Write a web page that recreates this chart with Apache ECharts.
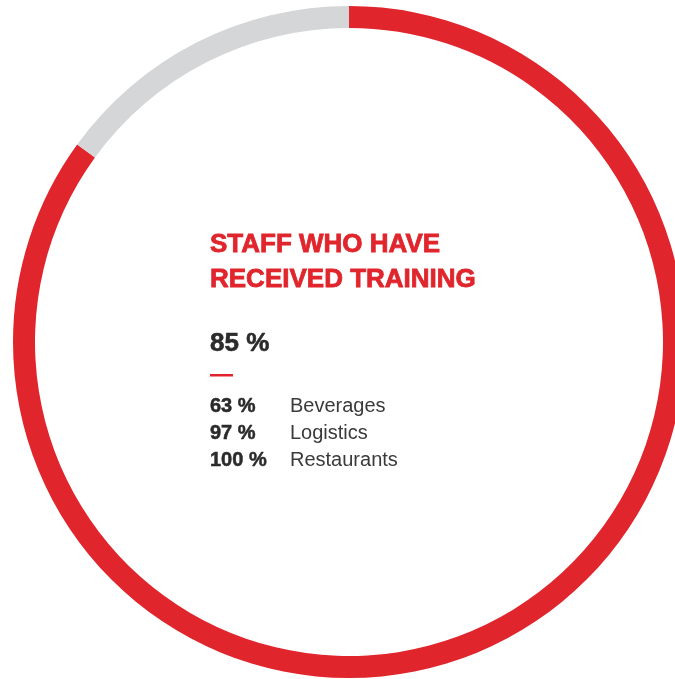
<!DOCTYPE html>
<html>
<head>
<meta charset="utf-8">
<script src="https://cdn.jsdelivr.net/npm/echarts@6/dist/echarts.min.js"></script>
<style>
html,body{margin:0;padding:0;background:#fff;}
#chart{width:675px;height:679px;}
</style>
</head>
<body>
<div id="chart"></div>
<script>
// ---- data ----
const titleLines = ['STAFF WHO HAVE', 'RECEIVED TRAINING'];
const totalShare = 85;
const categories = ['Beverages', 'Logistics', 'Restaurants'];
const categoryShares = [63, 97, 100];

const RED = '#E0252C';
const GREY = '#D5D6D8';
const DARK = '#2b2b2b';
const FONT = '"Liberation Sans", Arial, sans-serif';

const chart = echarts.init(document.getElementById('chart'), null, {renderer: 'canvas'});

const graphics = [];
titleLines.forEach((t, i) => {
  graphics.push({
    type: 'text', x: 210, y: 245 + i * 35,
    style: {text: t, fill: RED, stroke: RED, lineWidth: 0.8, font: 'bold 26px ' + FONT, verticalAlign: 'middle', align: 'left'}
  });
});
graphics.push({
  type: 'text', x: 210, y: 344,
  style: {text: totalShare + ' %', fill: DARK, stroke: DARK, lineWidth: 0.6, font: 'bold 26px ' + FONT, verticalAlign: 'middle', align: 'left'}
});
graphics.push({
  type: 'rect', shape: {x: 210, y: 374, width: 23, height: 2.5},
  style: {fill: RED}
});
categories.forEach((c, i) => {
  const y = 406.5 + i * 27;
  graphics.push({
    type: 'text', x: 210, y: y,
    style: {text: categoryShares[i] + ' %', fill: DARK, stroke: DARK, lineWidth: 0.5, font: 'bold 20px ' + FONT, verticalAlign: 'middle', align: 'left'}
  });
  graphics.push({
    type: 'text', x: 290, y: y,
    style: {text: c, fill: '#3a3a3a', font: '20px ' + FONT, verticalAlign: 'middle', align: 'left'}
  });
});

chart.setOption({
  animation: false,
  series: [{
    type: 'pie',
    center: [349, 342],
    radius: [314, 336],
    startAngle: 90,
    clockwise: true,
    label: {show: false},
    labelLine: {show: false},
    silent: true,
    itemStyle: {borderWidth: 0},
    data: [
      {name: 'Trained', value: totalShare, itemStyle: {color: RED}},
      {name: 'Not trained', value: 100 - totalShare, itemStyle: {color: GREY}}
    ]
  }],
  graphic: graphics
});
</script>
</body>
</html>
